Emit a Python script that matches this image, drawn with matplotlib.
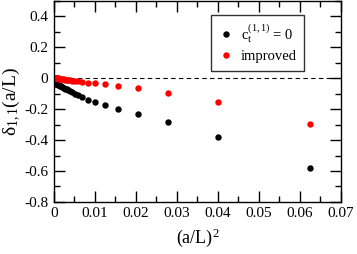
import numpy as np
import matplotlib
matplotlib.use('Agg')
import matplotlib.pyplot as plt
from matplotlib.ticker import MultipleLocator

plt.rcParams['font.family'] = ['Liberation Serif', 'DejaVu Serif']
plt.rcParams['mathtext.fontset'] = 'custom'
plt.rcParams['mathtext.rm'] = 'Liberation Serif'
plt.rcParams['mathtext.it'] = 'Liberation Serif:italic'

# lattice sizes L/a
L_over_a = [4, 5, 6, 7, 8, 9, 10, 11, 12, 13, 14, 15, 16, 17, 18, 19, 20,
            22, 24, 26, 28, 30, 32, 36, 40, 44, 48]
# delta_{1,1} with c_t^(1,1) = 0
delta_ct0 = [-0.580, -0.380, -0.284, -0.232, -0.200, -0.175, -0.155, -0.138,
             -0.124, -0.111, -0.100, -0.090, -0.082, -0.076, -0.071, -0.067,
             -0.063, -0.057, -0.052, -0.048, -0.045, -0.042, -0.040, -0.037,
             -0.035, -0.034, -0.033]
# improved
delta_imp = [-0.297, -0.155, -0.097, -0.062, -0.047, -0.038, -0.033, -0.028,
             -0.024, -0.020, -0.017, -0.015, -0.013, -0.011, -0.010, -0.008,
             -0.007, -0.005, -0.004, -0.003, -0.002, -0.001, 0.000, 0.001,
             0.002, 0.002, 0.002]

x = 1.0 / np.array(L_over_a, dtype=float) ** 2

fig = plt.figure(figsize=(3.57, 2.54), dpi=100)
ax = fig.add_axes([0.151, 0.205, 0.804, 0.791])

ax.axhline(0, color='black', ls=(0, (4, 3)), lw=0.8, zorder=1)
ax.plot(x, delta_ct0, 'o', color='black', ms=4.6, mec='none',
        label=r'c$_{\mathrm{t}}^{\mathrm{(1,1)}}$ = 0')
ax.plot(x, delta_imp, 'o', color='red', ms=4.6, mec='none',
        label='improved')

ax.set_xlim(0, 0.07)
ax.set_ylim(-0.8, 0.5)
ax.xaxis.set_minor_locator(MultipleLocator(0.005))
ax.yaxis.set_minor_locator(MultipleLocator(0.1))
ax.set_yticks([-0.8, -0.6, -0.4, -0.2, 0, 0.2, 0.4])
ax.set_yticklabels(['-0.8', '-0.6', '-0.4', '-0.2', '0', '0.2', '0.4'])
ax.set_xticks([0, 0.01, 0.02, 0.03, 0.04, 0.05, 0.06, 0.07])
ax.set_xticklabels(['0', '0.01', '0.02', '0.03', '0.04', '0.05', '0.06', '0.07'])
ax.tick_params(which='both', direction='in', top=True, right=True,
               labelsize=11, width=1)
ax.tick_params(which='major', length=8, pad=4)
ax.tick_params(which='minor', length=4)
for sp in ax.spines.values():
    sp.set_linewidth(1)

ax.set_xlabel(r'(a/L)$^{\mathrm{2}}$', fontsize=13, labelpad=4)
ax.set_ylabel(r'δ$_{\mathrm{1,1}}$(a/L)', fontsize=14, labelpad=1)

leg = ax.legend(loc='upper right', bbox_to_anchor=(0.871, 0.930),
                fontsize=10.5, fancybox=False, edgecolor='black',
                handletextpad=0.5, handlelength=1.0, borderpad=0.5,
                labelspacing=0.35, borderaxespad=0)
leg.get_frame().set_linewidth(1)

fig.savefig('out.png', dpi=100)
